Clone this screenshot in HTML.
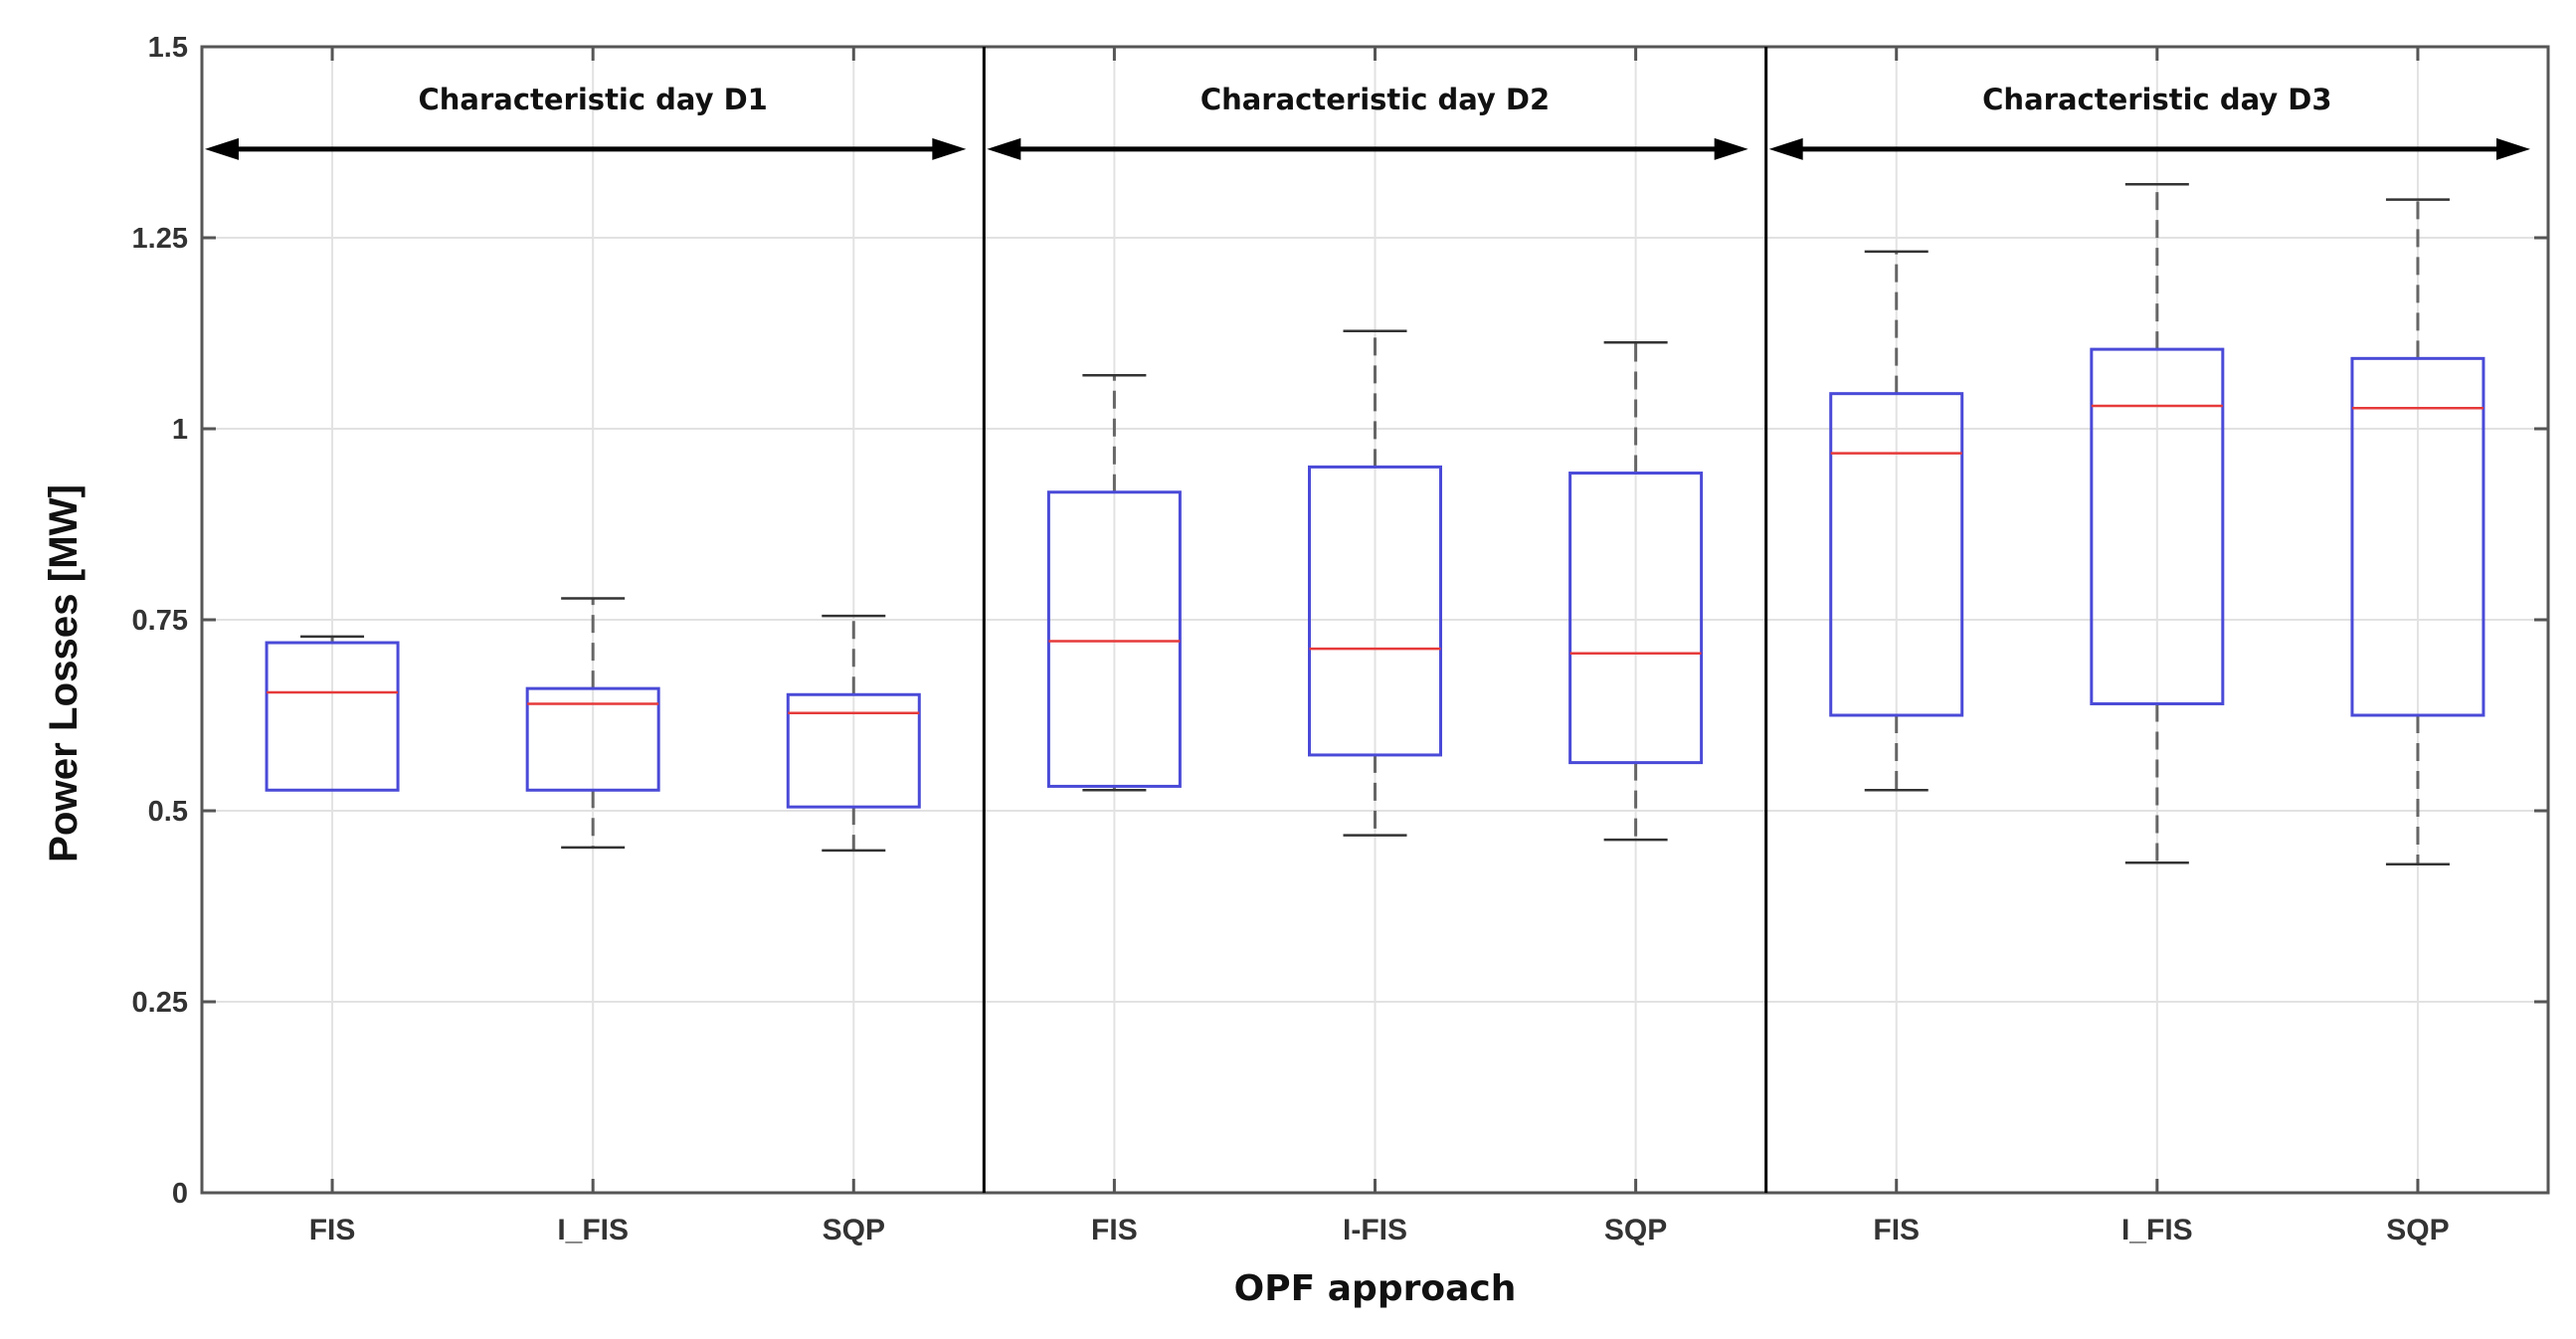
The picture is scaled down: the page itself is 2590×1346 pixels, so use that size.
<!DOCTYPE html>
<html><head><meta charset="utf-8"><style>
html,body{margin:0;padding:0;background:#fff;}
svg{display:block;}
</style></head><body>
<svg id="chart" width="2590" height="1346" viewBox="0 0 2590 1346" xmlns="http://www.w3.org/2000/svg">
<g id="grid"></g>
<g id="marks"></g>
<g id="axes"></g>
</svg>
<script>
const categories = ["FIS","I_FIS","SQP","FIS","I-FIS","SQP","FIS","I_FIS","SQP"];
const whiskerLow = [0.527,0.452,0.448,0.527,0.468,0.462,0.527,0.432,0.430];
const q1Values   = [0.527,0.527,0.505,0.532,0.573,0.563,0.625,0.640,0.625];
const medians    = [0.655,0.640,0.628,0.722,0.712,0.706,0.968,1.030,1.027];
const q3Values   = [0.720,0.660,0.652,0.917,0.950,0.942,1.046,1.104,1.092];
const whiskerHigh= [0.728,0.778,0.755,1.070,1.128,1.113,1.232,1.320,1.300];
const yTicks = [0,0.25,0.5,0.75,1,1.25,1.5];
const yTickLabels = ["0","0.25","0.5","0.75","1","1.25","1.5"];
const dayLabels = ["Characteristic day D1","Characteristic day D2","Characteristic day D3"];
const arrowValue = 1.366;

const NS="http://www.w3.org/2000/svg";
const L=203,R=2562,T=47,B=1199,yMin=0,yMax=1.5;
const n=categories.length, step=(R-L)/n;
const xPos=i=>L+(i+0.5)*step;
const yPos=v=>B-(v-yMin)/(yMax-yMin)*(B-T);
function mk(parent,tag,attrs,text){const e=document.createElementNS(NS,tag);for(const k in attrs)e.setAttribute(k,attrs[k]);if(text!==undefined)e.textContent=text;parent.appendChild(e);return e;}
const grid=document.getElementById('grid'),marks=document.getElementById('marks'),axes=document.getElementById('axes');

yTicks.forEach((t,i)=>{
  if(i===0||i===yTicks.length-1)return;
  const g=mk(grid,'line',{x1:L,x2:R,y1:yPos(t),y2:yPos(t),stroke:'#e2e2e2','stroke-width':2});
  
  
});
categories.forEach((c,i)=>{
  const g=mk(grid,'line',{x1:xPos(i),x2:xPos(i),y1:T,y2:B,stroke:'#e2e2e2','stroke-width':2});
  
  
});

categories.forEach((c,i)=>{
  const x=xPos(i),hw=66,cw=32;
  const g=mk(marks,'g',{});
  
  
  mk(g,'line',{x1:x,x2:x,y1:yPos(q3Values[i]),y2:yPos(whiskerHigh[i]),stroke:'#666','stroke-width':3,'stroke-dasharray':'18 10'});
  mk(g,'line',{x1:x,x2:x,y1:yPos(q1Values[i]),y2:yPos(whiskerLow[i]),stroke:'#666','stroke-width':3,'stroke-dasharray':'18 10'});
  mk(g,'line',{x1:x-cw,x2:x+cw,y1:yPos(whiskerHigh[i]),y2:yPos(whiskerHigh[i]),stroke:'#333','stroke-width':2.5});
  mk(g,'line',{x1:x-cw,x2:x+cw,y1:yPos(whiskerLow[i]),y2:yPos(whiskerLow[i]),stroke:'#333','stroke-width':2.5});
  mk(g,'rect',{x:x-hw,y:yPos(q3Values[i]),width:2*hw,height:yPos(q1Values[i])-yPos(q3Values[i]),fill:'none',stroke:'#4a4ad8','stroke-width':3});
  mk(g,'line',{x1:x-hw,x2:x+hw,y1:yPos(medians[i]),y2:yPos(medians[i]),stroke:'#e63a3a','stroke-width':2.5});
});

const frame=mk(axes,'rect',{x:L,y:T,width:R-L,height:B-T,fill:'none',stroke:'#555','stroke-width':3});


yTicks.forEach((t,i)=>{
  mk(axes,'line',{x1:L,x2:L+14,y1:yPos(t),y2:yPos(t),stroke:'#555','stroke-width':3});
  mk(axes,'line',{x1:R-14,x2:R,y1:yPos(t),y2:yPos(t),stroke:'#555','stroke-width':3});
  const tl=mk(axes,'text',{x:L-14,y:yPos(t)+10,'text-anchor':'end','font-family':'Liberation Sans, sans-serif','font-weight':'bold','font-size':29,fill:'#333'},yTickLabels[i]);
  
  
});
categories.forEach((c,i)=>{
  mk(axes,'line',{x1:xPos(i),x2:xPos(i),y1:B,y2:B-14,stroke:'#555','stroke-width':3});
  mk(axes,'line',{x1:xPos(i),x2:xPos(i),y1:T,y2:T+14,stroke:'#555','stroke-width':3});
  const tl=mk(axes,'text',{x:xPos(i),y:B+47,'text-anchor':'middle','font-family':'Liberation Sans, sans-serif','font-weight':'bold','font-size':30,fill:'#333'},c);
  
  
});

dayLabels.forEach((d,k)=>{
  const x0=L+k*3*step, x1=L+(k+1)*3*step;
  if(k>0){const dv=mk(axes,'line',{x1:x0,x2:x0,y1:T,y2:B,stroke:'#000','stroke-width':3});
    
    }
  const ay=yPos(arrowValue), a0=x0+3, a1=x1-18;
  const ag=mk(axes,'g',{});
  
  
  mk(ag,'line',{x1:a0+30,x2:a1-30,y1:ay,y2:ay,stroke:'#000','stroke-width':5});
  mk(ag,'polygon',{points:`${a0},${ay} ${a0+34},${ay-11} ${a0+34},${ay+11}`,fill:'#000'});
  mk(ag,'polygon',{points:`${a1},${ay} ${a1-34},${ay-11} ${a1-34},${ay+11}`,fill:'#000'});
  const dl=mk(axes,'text',{x:(x0+x1)/2,y:ay-40,'text-anchor':'middle','font-family':'DejaVu Sans, sans-serif','font-weight':'bold','font-size':29,fill:'#111'},d);
  
  
});

const xt=mk(axes,'text',{x:(L+R)/2,y:1307,'text-anchor':'middle','font-family':'DejaVu Sans, sans-serif','font-weight':'bold','font-size':36,fill:'#111'},'OPF approach');


const yt=mk(axes,'text',{x:0,y:0,'text-anchor':'middle','font-family':'Liberation Sans, sans-serif','font-weight':'bold','font-size':40,fill:'#111',textLength:380,lengthAdjust:'spacingAndGlyphs',transform:'translate(77,677) rotate(-90)'},'Power Losses [MW]');


</script>
</body></html>
